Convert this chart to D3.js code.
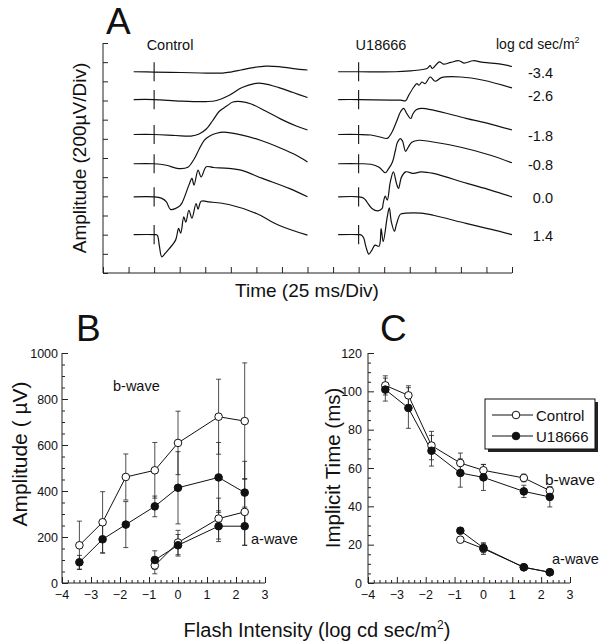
<!DOCTYPE html>
<html><head><meta charset="utf-8">
<script src="https://cdn.jsdelivr.net/npm/d3@7"></script>
<style>
body{margin:0;background:#fff;}
text{font-family:"Liberation Sans",Arial,Helvetica,sans-serif;fill:#111;}
</style></head>
<body><svg id="c" width="606" height="644"></svg>
<script>
// ---------- Panel A data: ERG traces, [time after flash (ms), amplitude (µV)] ----------
const traceLabels = ["-3.4","-2.6","-1.8","-0.8","0.0","1.4"];
const controlTraces = [
  [[-20,0],[0,-3],[26,-8],[51,-14],[67,-14],[75,-3],[85,18],[97,44],[109,59],[122,54],[136,33],[150,18]],
  [[-20,0],[0,0],[26,-16],[51,-21],[61,-10],[73,42],[86,125],[98,167],[107,167],[122,125],[136,73],[150,21]],
  [[-20,0],[0,0],[21,-10],[36,-16],[44,5],[51,57],[57,141],[64,245],[71,297],[77,339],[85,344],[95,318],[109,245],[124,161],[139,89],[150,47]],
  [[-20,0],[0,0],[12,-16],[24,-50],[33,-36],[39,47],[44,151],[49,245],[54,287],[61,318],[68,331],[85,302],[104,245],[124,162],[139,89],[150,19]],
  [[-20,0],[0,0],[7,-14],[12,-52],[16,-131],[24,-104],[27,-69],[34,122],[37,192],[39,122],[43,278],[46,208],[51,313],[58,306],[73,296],[85,278],[106,192],[132,88],[150,0]],
  [[-20,0],[0,0],[3,-5],[5,-109],[7.5,-231],[11,-193],[15,-144],[21,-57],[24,65],[26,16],[29,185],[31,130],[34,255],[37,172],[41,325],[43,266],[46,349],[54,342],[73,315],[100,221],[122,99],[150,-5]]
];
const u18666Traces = [
  [[-20,0],[0,0],[36,0],[51,10],[61,21],[67,34],[70,63],[72,34],[79,104],[83,80],[90,97],[98,115],[103,91],[112,115],[122,97],[139,80],[150,55]],
  [[-20,0],[0,0],[41,-7],[46,-12],[49,45],[54,131],[57,167],[59,149],[62,183],[65,165],[70,235],[75,191],[81,229],[100,235],[122,201],[150,121]],
  [[-20,0],[0,0],[12,-5],[21,-26],[28,-40],[32,13],[37,133],[41,238],[44,273],[47,221],[51,167],[53,214],[56,255],[61,273],[73,255],[105,169],[129,109],[150,47]],
  [[-20,0],[0,0],[12,-5],[20,-36],[26,-94],[29,-57],[33,16],[36,141],[38,224],[41,263],[43,234],[46,130],[49,182],[52,224],[59,245],[70,232],[100,172],[129,89],[150,10]],
  [[-20,0],[0,0],[5,-14],[8,-52],[13,-121],[19,-146],[23,-121],[24,-69],[26,7],[28,-34],[31,156],[34,260],[37,140],[39,88],[42,208],[46,260],[54,244],[61,260],[73,244],[106,140],[129,70],[150,0]],
  [[-20,0],[0,0],[3,-5],[5,-36],[7,-120],[10,-203],[13,-161],[16,-109],[20,-120],[22,63],[24,-73],[28,185],[30,281],[32,133],[35,36],[37,109],[41,214],[46,224],[61,224],[73,203],[105,117],[129,57],[150,0]]
];

// ---------- Panels B & C data ----------
const flashIntensity = [-3.4, -2.6, -1.8, -0.8, 0.0, 1.4, 2.3];
const aWaveIntensity = [-0.8, 0.0, 1.4, 2.3];
// B: amplitude (µV)
const bWaveAmpControl   = [164, 264, 461, 490, 609, 723, 704];
const bWaveAmpControlSD = [105, 133, 100, 121, 138, 163, 253];
const bWaveAmpU18666    = [90, 190, 254, 333, 414, 459, 393];
const bWaveAmpU18666SD  = [30, 60, 100, 45, 157, 152, 136];
const aWaveAmpControl   = [76, 176, 280, 309];
const aWaveAmpControlSD = [36, 53, 89, 145];
const aWaveAmpU18666    = [100, 164, 247, 247];
const aWaveAmpU18666SD  = [40, 47, 67, 83];
// C: implicit time (ms)
const bWaveTimeControl   = [103.1, 97.9, 71.7, 62.6, 58.8, 54.8, 48.2];
const bWaveTimeControlSD = [5, 5, 7.4, 5.2, 3, 2, 2];
const bWaveTimeU18666    = [100.9, 91.3, 69, 57.4, 55.1, 47.8, 44.9];
const bWaveTimeU18666SD  = [6, 10.6, 8, 7.4, 6.8, 3.2, 5.2];
const aWaveTimeControl   = [22.6, 17.9, 8.2, 5.6];
const aWaveTimeControlSD = [1, 3, 1, 0.5];
const aWaveTimeU18666    = [27.3, 18.3, 8.2, 5.6];
const aWaveTimeU18666SD  = [1.5, 2.5, 1, 0.5];
const ampTicks = [0, 200, 400, 600, 800, 1000];
const timeTicks = [0, 20, 40, 60, 80, 100, 120];
const xTicks = [-4, -3, -2, -1, 0, 1, 2, 3];

const svg = d3.select("#c");

// ================= Panel A =================
const ax = d3.scaleLinear().domain([0, 400]).range([103, 512]);   // ms, 25 ms/div
const ay = d3.scaleLinear().domain([0, 2400]).range([273, 43]);   // µV, 200 µV/div
const traceOffset = [2100, 1810, 1445, 1140, 795, 400];
const flashTime = {control: 50, u: 250};
const gA = svg.append("g");
gA.append("g").attr("transform","translate(0,273)")
  .call(d3.axisTop(ax).tickValues(d3.range(0, 401, 25)).tickSize(6).tickFormat(""))
  .call(g=>g.select(".domain").attr("d","M103,0H512"));
gA.append("g").attr("transform","translate(103,0)")
  .call(d3.axisRight(ay).tickValues(d3.range(0, 2401, 200)).tickSize(5).tickFormat(""))
  .call(g=>g.select(".domain").attr("d","M0,43V273"));
gA.selectAll(".tick line").attr("stroke","#222");
gA.selectAll(".domain").attr("stroke","#222");

const line = d3.line().curve(d3.curveCatmullRom.alpha(0.5));
function drawTraces(traces, t0){
  traces.forEach((tr,i)=>{
    const off = traceOffset[i];
    gA.append("path")
      .attr("d", line(tr.map(d=>[ax(t0+d[0]), ay(off+d[1])])))
      .attr("fill","none").attr("stroke","#111").attr("stroke-width",1.2);
    gA.append("line")
      .attr("x1",ax(t0)).attr("x2",ax(t0))
      .attr("y1",ay(off+100)).attr("y2",ay(off-100))
      .attr("stroke","#111").attr("stroke-width",1.1);
  });
}
drawTraces(controlTraces, flashTime.control);
drawTraces(u18666Traces, flashTime.u);
traceLabels.forEach((l,i)=>{
  gA.append("text").attr("x",553).attr("y",ay(traceOffset[i])+ (i===0? 1 : i===1 ? -4 : 1)+5)
    .attr("text-anchor","end").attr("font-size",14.5).text(l);
});
gA.append("text").attr("x",106).attr("y",33.5).attr("font-size",37).text("A");
gA.append("text").attr("x",170).attr("y",50).attr("text-anchor","middle").attr("font-size",14.5).text("Control");
gA.append("text").attr("x",381).attr("y",50).attr("text-anchor","middle").attr("font-size",14.5).text("U18666");
const lg = gA.append("text").attr("x",496).attr("y",49).attr("font-size",14).text("log cd sec/m");
lg.append("tspan").attr("dy",-6).attr("font-size",9).text("2");
gA.append("text").attr("x",307).attr("y",297).attr("text-anchor","middle").attr("font-size",19).text("Time (25 ms/Div)");
gA.append("text").attr("transform","translate(86,158) rotate(-90)").attr("text-anchor","middle")
  .attr("font-size",19).text("Amplitude (200µV/Div)");

// ================= Panels B & C helpers =================
function axesXY(g, x, y, yTicks, yMinor, yPad){
  const [x0] = x.range(); const [y0] = y.range();
  g.append("g").attr("transform",`translate(0,${y0})`)
    .call(d3.axisTop(x).tickValues(d3.range(-4, 3.001, 0.2).map(v=>+v.toFixed(1)).filter(v=>!xTicks.includes(v))).tickSize(3).tickFormat(""))
    .call(a=>a.select(".domain").remove());
  g.append("g").attr("transform",`translate(0,${y0})`)
    .call(d3.axisTop(x).tickValues(xTicks).tickSize(6).tickFormat(""))
    .call(a=>a.select(".domain").attr("d",`M${x.range()[0]},0H${x.range()[1]}`));
  xTicks.forEach(v=>{
    g.append("text").attr("x",x(v)).attr("y",y0+16).attr("text-anchor","middle").attr("font-size",12.5).text(d3.format("d")(v));
  });
  g.append("g").attr("transform",`translate(${x0},0)`)
    .call(d3.axisRight(y).tickValues(yMinor.filter(v=>!yTicks.includes(v))).tickSize(3).tickFormat(""))
    .call(a=>a.select(".domain").remove());
  g.append("g").attr("transform",`translate(${x0},0)`)
    .call(d3.axisRight(y).tickValues(yTicks).tickSize(6).tickFormat(""))
    .call(a=>a.select(".domain").attr("d",`M0,${y.range()[0]}V${y.range()[1]}`));
  yTicks.forEach(v=>{
    g.append("text").attr("x",x0-yPad).attr("y",y(v)+4.5).attr("text-anchor","end").attr("font-size",12.5).text(v);
  });
  g.selectAll(".tick line").attr("stroke","#222");
  g.selectAll(".domain").attr("stroke","#222");
}
function series(g, x, y, xs, ys, sds){
  const pts = xs.map((v,i)=>[x(v), y(ys[i])]);
  g.append("path").attr("d", d3.line()(pts)).attr("fill","none").attr("stroke","#111").attr("stroke-width",1);
  xs.forEach((v,i)=>{
    const cx = x(v), yt = y(ys[i]+sds[i]), yb = y(Math.max(0, ys[i]-sds[i]));
    g.append("line").attr("x1",cx).attr("x2",cx).attr("y1",yt).attr("y2",yb).attr("stroke","#222").attr("stroke-width",0.8);
    [yt,yb].forEach(yy=>g.append("line").attr("x1",cx-2.5).attr("x2",cx+2.5).attr("y1",yy).attr("y2",yy).attr("stroke","#222").attr("stroke-width",0.8));
  });
  return pts;
}
function dots(g, pts, filled){
  pts.forEach(p=>g.append("circle").attr("cx",p[0]).attr("cy",p[1]).attr("r",3.8)
    .attr("fill", filled ? "#111" : "#fff").attr("stroke","#111").attr("stroke-width",1));
}

// ================= Panel B =================
const bx = d3.scaleLinear().domain([-4, 3]).range([62, 265]);
const by = d3.scaleLinear().domain([0, 1000]).range([583, 353]);
const gB = svg.append("g");
axesXY(gB, bx, by, ampTicks, d3.range(0, 1001, 50), 4);
const pB1 = series(gB, bx, by, flashIntensity, bWaveAmpControl, bWaveAmpControlSD);
const pB2 = series(gB, bx, by, flashIntensity, bWaveAmpU18666, bWaveAmpU18666SD);
const pB3 = series(gB, bx, by, aWaveIntensity, aWaveAmpControl, aWaveAmpControlSD);
const pB4 = series(gB, bx, by, aWaveIntensity, aWaveAmpU18666, aWaveAmpU18666SD);
dots(gB, pB1, false); dots(gB, pB3, false); dots(gB, pB2, true); dots(gB, pB4, true);
gB.append("text").attr("x",76).attr("y",341).attr("font-size",37).text("B");
gB.append("text").attr("x",113).attr("y",391).attr("font-size",14.5).text("b-wave");
gB.append("text").attr("x",251).attr("y",544).attr("font-size",14.5).text("a-wave");
gB.append("text").attr("transform","translate(27,454) rotate(-90)").attr("text-anchor","middle")
  .attr("font-size",21).text("Amplitude ( µV)");

// ================= Panel C =================
const cx = d3.scaleLinear().domain([-4, 3]).range([368, 570]);
const cy = d3.scaleLinear().domain([0, 120]).range([583, 353]);
const gC = svg.append("g");
axesXY(gC, cx, cy, timeTicks, d3.range(0, 121, 5), 6);
const pC1 = series(gC, cx, cy, flashIntensity, bWaveTimeControl, bWaveTimeControlSD);
const pC2 = series(gC, cx, cy, flashIntensity, bWaveTimeU18666, bWaveTimeU18666SD);
const pC3 = series(gC, cx, cy, aWaveIntensity, aWaveTimeControl, aWaveTimeControlSD);
const pC4 = series(gC, cx, cy, aWaveIntensity, aWaveTimeU18666, aWaveTimeU18666SD);
dots(gC, pC1, false); dots(gC, pC3, false); dots(gC, pC2, true); dots(gC, pC4, true);
gC.append("text").attr("x",380).attr("y",341).attr("font-size",37).text("C");
gC.append("text").attr("x",545).attr("y",485).attr("font-size",15.5).text("b-wave");
gC.append("text").attr("x",552).attr("y",564).attr("font-size",14.5).text("a-wave");
gC.append("text").attr("transform","translate(340,468) rotate(-90)").attr("text-anchor","middle")
  .attr("font-size",20.5).text("Implicit Time (ms)");
// legend
const legendNames = ["Control", "U18666"];
const leg = gC.append("g");
leg.append("rect").attr("x",488).attr("y",402).attr("width",110).attr("height",50).attr("fill","#222");
leg.append("rect").attr("x",485).attr("y",399).attr("width",110).attr("height",50).attr("fill","#fff").attr("stroke","#111").attr("stroke-width",1);
legendNames.forEach((n,i)=>{
  const yy = 415 + i*21;
  leg.append("line").attr("x1",492).attr("x2",533).attr("y1",yy).attr("y2",yy).attr("stroke","#111").attr("stroke-width",1);
  leg.append("circle").attr("cx",516).attr("cy",yy).attr("r",3.8).attr("fill", i ? "#111" : "#fff").attr("stroke","#111");
  leg.append("text").attr("x",536).attr("y",yy+5.5).attr("font-size",15).text(n);
});

// shared x title
const xt = svg.append("text").attr("x",317).attr("y",637).attr("text-anchor","middle").attr("font-size",20).text("Flash Intensity (log cd sec/m");
xt.append("tspan").attr("dy",-8).attr("font-size",12).text("2");
xt.append("tspan").attr("dy",8).text(")");
</script></body></html>
